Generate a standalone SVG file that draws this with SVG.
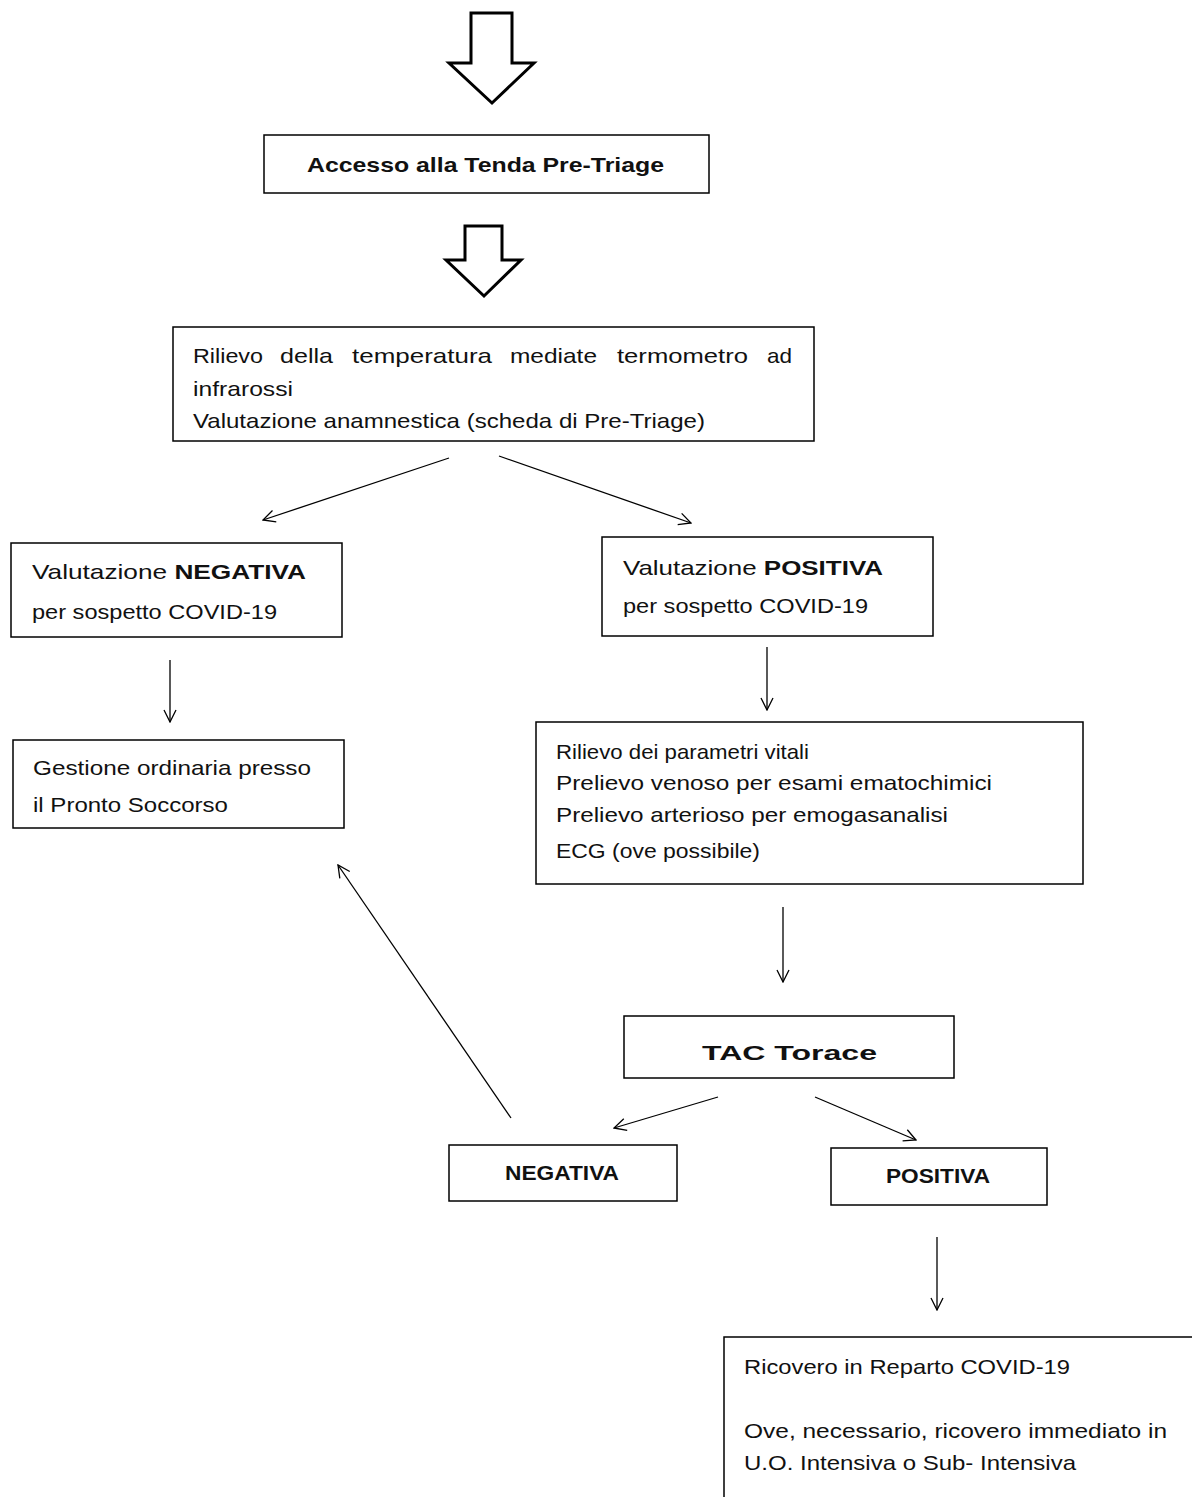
<svg xmlns="http://www.w3.org/2000/svg" width="1192" height="1497" viewBox="0 0 1192 1497">
<style>
.box{fill:#fff;stroke:#000;stroke-width:1.5}
.blk{fill:#fff;stroke:#000;stroke-width:3;stroke-linejoin:miter}
.t{font-family:"Liberation Sans",Arial,sans-serif;fill:#111;font-size:21px}
.b{font-weight:bold}
.c{stroke:#000;stroke-width:1.3;fill:none;marker-end:url(#ah)}
</style>
<defs>
<marker id="ah" viewBox="0 0 14 14" refX="13" refY="7" markerWidth="14" markerHeight="14" markerUnits="userSpaceOnUse" orient="auto">
<path d="M1,1 L13,7 L1,13" fill="none" stroke="#000" stroke-width="1.3"/>
</marker>
</defs>
<rect width="1192" height="1497" fill="#fff"/>
<g id="connectors">
<polygon class="blk" points="471,13 512,13 512,63 534,63 492,103 449,63 471,63"/>
<polygon class="blk" points="465,226 502,226 502,260 521,260 484,296 446,260 465,260"/>
<line class="c" x1="449" y1="458" x2="263" y2="520"/>
<line class="c" x1="499" y1="456" x2="691" y2="523"/>
<line class="c" x1="170" y1="660" x2="170" y2="722"/>
<line class="c" x1="767" y1="647" x2="767" y2="710"/>
<line class="c" x1="783" y1="907" x2="783" y2="982"/>
<line class="c" x1="718" y1="1097" x2="614" y2="1128"/>
<line class="c" x1="815" y1="1097" x2="916" y2="1140"/>
<line class="c" x1="511" y1="1118" x2="338" y2="865"/>
<line class="c" x1="937" y1="1237" x2="937" y2="1310"/>
</g>
<g id="n_accesso">
<rect class="box" x="264" y="135" width="445" height="58"/>
<text class="t b" x="307" y="172" font-size="21" textLength="357" lengthAdjust="spacingAndGlyphs">Accesso alla Tenda Pre-Triage</text>
</g>
<g id="n_rilievo">
<rect class="box" x="173" y="327" width="641" height="114"/>
<text class="t" x="193" y="363" textLength="70" lengthAdjust="spacingAndGlyphs">Rilievo</text>
<text class="t" x="280" y="363" textLength="53" lengthAdjust="spacingAndGlyphs">della</text>
<text class="t" x="352" y="363" textLength="140" lengthAdjust="spacingAndGlyphs">temperatura</text>
<text class="t" x="510" y="363" textLength="87" lengthAdjust="spacingAndGlyphs">mediate</text>
<text class="t" x="617" y="363" textLength="131" lengthAdjust="spacingAndGlyphs">termometro</text>
<text class="t" x="767" y="363" textLength="25" lengthAdjust="spacingAndGlyphs">ad</text>
<text class="t" x="193" y="396" textLength="100" lengthAdjust="spacingAndGlyphs">infrarossi</text>
<text class="t" x="193" y="428" textLength="512" lengthAdjust="spacingAndGlyphs">Valutazione anamnestica (scheda di Pre-Triage)</text>
</g>
<g id="n_neg">
<rect class="box" x="11" y="543" width="331" height="94"/>
<text class="t" x="32" y="579" font-size="23" textLength="274" lengthAdjust="spacingAndGlyphs">Valutazione <tspan class="b">NEGATIVA</tspan></text>
<text class="t" x="32" y="619" font-size="20" textLength="245" lengthAdjust="spacingAndGlyphs">per sospetto COVID-19</text>
</g>
<g id="n_pos">
<rect class="box" x="602" y="537" width="331" height="99"/>
<text class="t" x="623" y="575" font-size="23" textLength="260" lengthAdjust="spacingAndGlyphs">Valutazione <tspan class="b">POSITIVA</tspan></text>
<text class="t" x="623" y="613" font-size="20" textLength="245" lengthAdjust="spacingAndGlyphs">per sospetto COVID-19</text>
</g>
<g id="n_gestione">
<rect class="box" x="13" y="740" width="331" height="88"/>
<text class="t" x="33" y="775" textLength="278" lengthAdjust="spacingAndGlyphs">Gestione ordinaria presso</text>
<text class="t" x="33" y="812" textLength="195" lengthAdjust="spacingAndGlyphs">il Pronto Soccorso</text>
</g>
<g id="n_vitali">
<rect class="box" x="536" y="722" width="547" height="162"/>
<text class="t" x="556" y="759" textLength="253" lengthAdjust="spacingAndGlyphs">Rilievo dei parametri vitali</text>
<text class="t" x="556" y="790" textLength="436" lengthAdjust="spacingAndGlyphs">Prelievo venoso per esami ematochimici</text>
<text class="t" x="556" y="822" textLength="392" lengthAdjust="spacingAndGlyphs">Prelievo arterioso per emogasanalisi</text>
<text class="t" x="556" y="858" textLength="204" lengthAdjust="spacingAndGlyphs">ECG (ove possibile)</text>
</g>
<g id="n_tac">
<rect class="box" x="624" y="1016" width="330" height="62"/>
<text class="t b" x="702" y="1060" font-size="30" textLength="175" lengthAdjust="spacingAndGlyphs">TAC Torace</text>
</g>
<g id="n_tac_neg">
<rect class="box" x="449" y="1145" width="228" height="56"/>
<text class="t b" x="505" y="1180" font-size="17" textLength="114" lengthAdjust="spacingAndGlyphs">NEGATIVA</text>
</g>
<g id="n_tac_pos">
<rect class="box" x="831" y="1148" width="216" height="57"/>
<text class="t b" x="886" y="1183" font-size="17" textLength="104" lengthAdjust="spacingAndGlyphs">POSITIVA</text>
</g>
<g id="n_ricovero">
<rect class="box" x="724" y="1337" width="480" height="180"/>
<text class="t" x="744" y="1374" textLength="326" lengthAdjust="spacingAndGlyphs">Ricovero in Reparto COVID-19</text>
<text class="t" x="744" y="1438" textLength="423" lengthAdjust="spacingAndGlyphs">Ove, necessario, ricovero immediato in</text>
<text class="t" x="744" y="1470" textLength="332" lengthAdjust="spacingAndGlyphs">U.O. Intensiva o Sub- Intensiva</text>
</g>
</svg>
